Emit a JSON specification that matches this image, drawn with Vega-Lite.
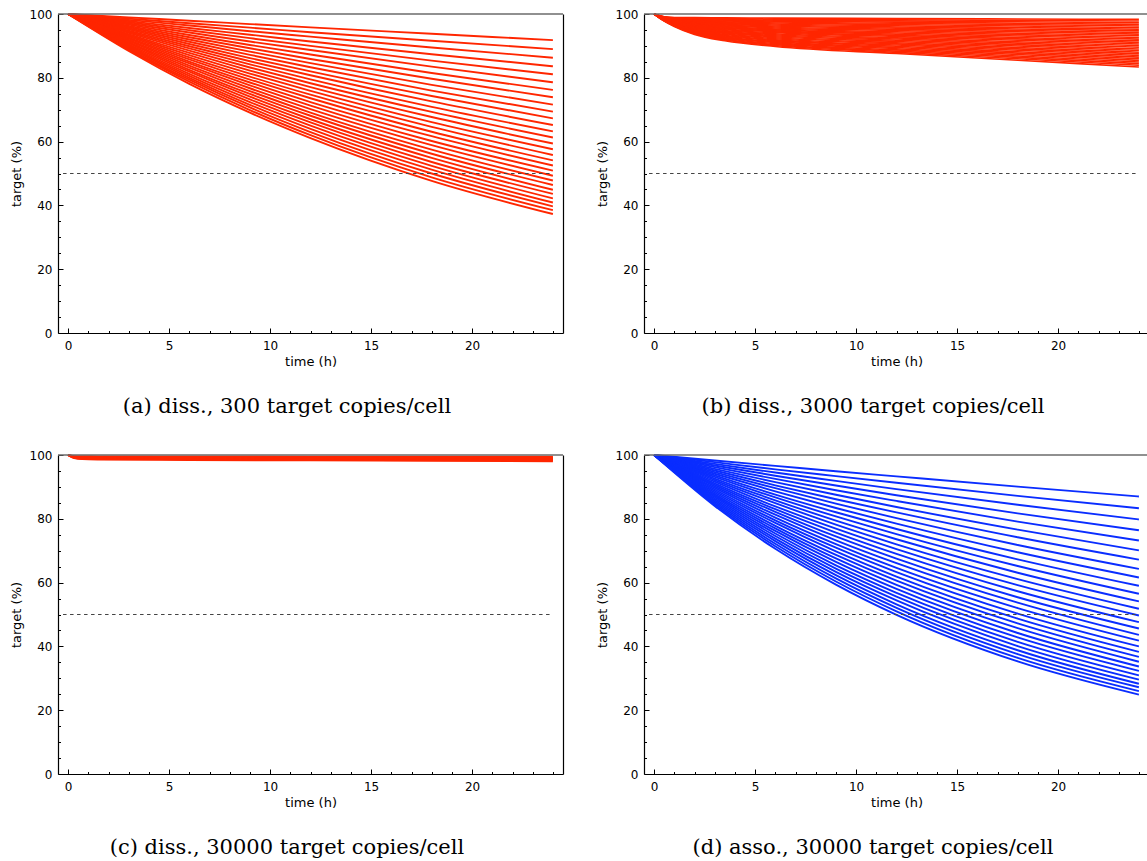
{
  "$schema": "https://vega.github.io/schema/vega-lite/v6.json",
  "background": "white",
  "padding": {"left": 10, "top": 8, "right": 0, "bottom": 0},
  "config": {
    "view": {"stroke": null},
    "font": "DejaVu Sans",
    "axis": {
      "domainColor": "black",
      "domainWidth": 1.2,
      "tickColor": "black",
      "tickWidth": 1,
      "labelColor": "black",
      "labelFont": "DejaVu Sans",
      "labelFontSize": 12,
      "titleFont": "DejaVu Sans",
      "titleFontSize": 13,
      "titleFontWeight": "normal",
      "titleColor": "black",
      "grid": false,
      "labelFlush": false,
      "labelOverlap": false
    },
    "title": {"font": "DejaVu Serif", "fontSize": 21, "fontWeight": "normal", "color": "black"}
  },
  "datasets": {
    "a": [
      {"s":0,"t":0,"v":100},{"s":0,"t":3,"v":98.94},{"s":0,"t":6,"v":97.9},{"s":0,"t":9,"v":96.84},{"s":0,"t":12,"v":95.8},{"s":0,"t":18,"v":93.8},{"s":0,"t":24,"v":91.8},
      {"s":1,"t":0,"v":100},{"s":1,"t":3,"v":98.55},{"s":1,"t":6,"v":97.1},{"s":1,"t":9,"v":95.72},{"s":1,"t":12,"v":94.3},{"s":1,"t":18,"v":91.6},{"s":1,"t":24,"v":89.0},
      {"s":2,"t":0,"v":100},{"s":2,"t":3,"v":98.17},{"s":2,"t":6,"v":96.4},{"s":2,"t":9,"v":94.61},{"s":2,"t":12,"v":92.9},{"s":2,"t":18,"v":89.5},{"s":2,"t":24,"v":86.3},
      {"s":3,"t":0,"v":100},{"s":3,"t":3,"v":97.79},{"s":3,"t":6,"v":95.6},{"s":3,"t":9,"v":93.51},{"s":3,"t":12,"v":91.4},{"s":3,"t":18,"v":87.4},{"s":3,"t":24,"v":83.6},
      {"s":4,"t":0,"v":100},{"s":4,"t":3,"v":97.41},{"s":4,"t":6,"v":94.9},{"s":4,"t":9,"v":92.43},{"s":4,"t":12,"v":90.0},{"s":4,"t":18,"v":85.4},{"s":4,"t":24,"v":81.1},
      {"s":5,"t":0,"v":100},{"s":5,"t":3,"v":97.03},{"s":5,"t":6,"v":94.2},{"s":5,"t":9,"v":91.36},{"s":5,"t":12,"v":88.7},{"s":5,"t":18,"v":83.5},{"s":5,"t":24,"v":78.6},
      {"s":6,"t":0,"v":100},{"s":6,"t":3,"v":96.66},{"s":6,"t":6,"v":93.4},{"s":6,"t":9,"v":90.30},{"s":6,"t":12,"v":87.3},{"s":6,"t":18,"v":81.5},{"s":6,"t":24,"v":76.2},
      {"s":7,"t":0,"v":100},{"s":7,"t":3,"v":96.28},{"s":7,"t":6,"v":92.7},{"s":7,"t":9,"v":89.26},{"s":7,"t":12,"v":85.9},{"s":7,"t":18,"v":79.7},{"s":7,"t":24,"v":73.9},
      {"s":8,"t":0,"v":100},{"s":8,"t":3,"v":95.91},{"s":8,"t":6,"v":92.0},{"s":8,"t":9,"v":88.22},{"s":8,"t":12,"v":84.6},{"s":8,"t":18,"v":77.8},{"s":8,"t":24,"v":71.6},
      {"s":9,"t":0,"v":100},{"s":9,"t":3,"v":95.54},{"s":9,"t":6,"v":91.3},{"s":9,"t":9,"v":87.20},{"s":9,"t":12,"v":83.3},{"s":9,"t":18,"v":76.0},{"s":9,"t":24,"v":69.4},
      {"s":10,"t":0,"v":100},{"s":10,"t":3,"v":95.17},{"s":10,"t":6,"v":90.6},{"s":10,"t":9,"v":86.19},{"s":10,"t":12,"v":82.0},{"s":10,"t":18,"v":74.3},{"s":10,"t":24,"v":67.3},
      {"s":11,"t":0,"v":100},{"s":11,"t":3,"v":94.80},{"s":11,"t":6,"v":89.9},{"s":11,"t":9,"v":85.19},{"s":11,"t":12,"v":80.8},{"s":11,"t":18,"v":72.6},{"s":11,"t":24,"v":65.2},
      {"s":12,"t":0,"v":100},{"s":12,"t":3,"v":94.43},{"s":12,"t":6,"v":89.2},{"s":12,"t":9,"v":84.21},{"s":12,"t":12,"v":79.5},{"s":12,"t":18,"v":70.9},{"s":12,"t":24,"v":63.2},
      {"s":13,"t":0,"v":100},{"s":13,"t":3,"v":94.07},{"s":13,"t":6,"v":88.5},{"s":13,"t":9,"v":83.23},{"s":13,"t":12,"v":78.3},{"s":13,"t":18,"v":69.3},{"s":13,"t":24,"v":61.3},
      {"s":14,"t":0,"v":100},{"s":14,"t":3,"v":93.70},{"s":14,"t":6,"v":87.8},{"s":14,"t":9,"v":82.27},{"s":14,"t":12,"v":77.1},{"s":14,"t":18,"v":67.7},{"s":14,"t":24,"v":59.4},
      {"s":15,"t":0,"v":100},{"s":15,"t":3,"v":93.34},{"s":15,"t":6,"v":87.1},{"s":15,"t":9,"v":81.32},{"s":15,"t":12,"v":75.9},{"s":15,"t":18,"v":66.1},{"s":15,"t":24,"v":57.6},
      {"s":16,"t":0,"v":100},{"s":16,"t":3,"v":92.98},{"s":16,"t":6,"v":86.4},{"s":16,"t":9,"v":80.37},{"s":16,"t":12,"v":74.7},{"s":16,"t":18,"v":64.6},{"s":16,"t":24,"v":55.8},
      {"s":17,"t":0,"v":100},{"s":17,"t":3,"v":92.62},{"s":17,"t":6,"v":85.8},{"s":17,"t":9,"v":79.45},{"s":17,"t":12,"v":73.6},{"s":17,"t":18,"v":63.1},{"s":17,"t":24,"v":54.1},
      {"s":18,"t":0,"v":100},{"s":18,"t":3,"v":92.26},{"s":18,"t":6,"v":85.1},{"s":18,"t":9,"v":78.53},{"s":18,"t":12,"v":72.4},{"s":18,"t":18,"v":61.7},{"s":18,"t":24,"v":52.5},
      {"s":19,"t":0,"v":100},{"s":19,"t":3,"v":91.90},{"s":19,"t":6,"v":84.5},{"s":19,"t":9,"v":77.62},{"s":19,"t":12,"v":71.3},{"s":19,"t":18,"v":60.2},{"s":19,"t":24,"v":50.9},
      {"s":20,"t":0,"v":100},{"s":20,"t":3,"v":91.54},{"s":20,"t":6,"v":83.8},{"s":20,"t":9,"v":76.72},{"s":20,"t":12,"v":70.2},{"s":20,"t":18,"v":58.9},{"s":20,"t":24,"v":49.3},
      {"s":21,"t":0,"v":100},{"s":21,"t":3,"v":91.19},{"s":21,"t":6,"v":83.2},{"s":21,"t":9,"v":75.83},{"s":21,"t":12,"v":69.1},{"s":21,"t":18,"v":57.5},{"s":21,"t":24,"v":47.8},
      {"s":22,"t":0,"v":100},{"s":22,"t":3,"v":90.84},{"s":22,"t":6,"v":82.5},{"s":22,"t":9,"v":74.95},{"s":22,"t":12,"v":68.1},{"s":22,"t":18,"v":56.2},{"s":22,"t":24,"v":46.4},
      {"s":23,"t":0,"v":100},{"s":23,"t":3,"v":90.48},{"s":23,"t":6,"v":81.9},{"s":23,"t":9,"v":74.08},{"s":23,"t":12,"v":67.0},{"s":23,"t":18,"v":54.9},{"s":23,"t":24,"v":44.9},
      {"s":24,"t":0,"v":100},{"s":24,"t":3,"v":90.13},{"s":24,"t":6,"v":81.2},{"s":24,"t":9,"v":73.23},{"s":24,"t":12,"v":66.0},{"s":24,"t":18,"v":53.6},{"s":24,"t":24,"v":43.6},
      {"s":25,"t":0,"v":100},{"s":25,"t":3,"v":89.78},{"s":25,"t":6,"v":80.6},{"s":25,"t":9,"v":72.38},{"s":25,"t":12,"v":65.0},{"s":25,"t":18,"v":52.4},{"s":25,"t":24,"v":42.2},
      {"s":26,"t":0,"v":100},{"s":26,"t":3,"v":89.44},{"s":26,"t":6,"v":80.0},{"s":26,"t":9,"v":71.54},{"s":26,"t":12,"v":64.0},{"s":26,"t":18,"v":51.2},{"s":26,"t":24,"v":40.9},
      {"s":27,"t":0,"v":100},{"s":27,"t":3,"v":89.09},{"s":27,"t":6,"v":79.4},{"s":27,"t":9,"v":70.71},{"s":27,"t":12,"v":63.0},{"s":27,"t":18,"v":50.0},{"s":27,"t":24,"v":39.7},
      {"s":28,"t":0,"v":100},{"s":28,"t":3,"v":88.74},{"s":28,"t":6,"v":78.8},{"s":28,"t":9,"v":69.89},{"s":28,"t":12,"v":62.0},{"s":28,"t":18,"v":48.8},{"s":28,"t":24,"v":38.5},
      {"s":29,"t":0,"v":100},{"s":29,"t":3,"v":88.40},{"s":29,"t":6,"v":78.1},{"s":29,"t":9,"v":69.08},{"s":29,"t":12,"v":61.1},{"s":29,"t":18,"v":47.7},{"s":29,"t":24,"v":37.3}
    ],
    "b": [
      {"s":0,"t":0,"v":100},{"s":0,"t":0.5,"v":99.15},{"s":0,"t":1,"v":98.9},{"s":0,"t":2,"v":98.85},{"s":0,"t":3.5,"v":98.8},{"s":0,"t":6,"v":98.7},{"s":0,"t":12,"v":98.6},{"s":0,"t":18,"v":98.45},{"s":0,"t":24,"v":98.3},
      {"s":1,"t":0,"v":100},{"s":1,"t":0.5,"v":99.10},{"s":1,"t":1,"v":98.80},{"s":1,"t":2,"v":98.67},{"s":1,"t":3.5,"v":98.55},{"s":1,"t":6,"v":98.39},{"s":1,"t":12,"v":98.22},{"s":1,"t":18,"v":98.00},{"s":1,"t":24,"v":97.79},
      {"s":2,"t":0,"v":100},{"s":2,"t":0.5,"v":99.06},{"s":2,"t":1,"v":98.71},{"s":2,"t":2,"v":98.49},{"s":2,"t":3.5,"v":98.30},{"s":2,"t":6,"v":98.09},{"s":2,"t":12,"v":97.84},{"s":2,"t":18,"v":97.56},{"s":2,"t":24,"v":97.27},
      {"s":3,"t":0,"v":100},{"s":3,"t":0.5,"v":99.01},{"s":3,"t":1,"v":98.61},{"s":3,"t":2,"v":98.31},{"s":3,"t":3.5,"v":98.06},{"s":3,"t":6,"v":97.78},{"s":3,"t":12,"v":97.46},{"s":3,"t":18,"v":97.11},{"s":3,"t":24,"v":96.76},
      {"s":4,"t":0,"v":100},{"s":4,"t":0.5,"v":98.96},{"s":4,"t":1,"v":98.51},{"s":4,"t":2,"v":98.13},{"s":4,"t":3.5,"v":97.81},{"s":4,"t":6,"v":97.47},{"s":4,"t":12,"v":97.08},{"s":4,"t":18,"v":96.66},{"s":4,"t":24,"v":96.24},
      {"s":5,"t":0,"v":100},{"s":5,"t":0.5,"v":98.92},{"s":5,"t":1,"v":98.42},{"s":5,"t":2,"v":97.94},{"s":5,"t":3.5,"v":97.56},{"s":5,"t":6,"v":97.17},{"s":5,"t":12,"v":96.70},{"s":5,"t":18,"v":96.22},{"s":5,"t":24,"v":95.73},
      {"s":6,"t":0,"v":100},{"s":6,"t":0.5,"v":98.87},{"s":6,"t":1,"v":98.32},{"s":6,"t":2,"v":97.76},{"s":6,"t":3.5,"v":97.31},{"s":6,"t":6,"v":96.86},{"s":6,"t":12,"v":96.32},{"s":6,"t":18,"v":95.77},{"s":6,"t":24,"v":95.22},
      {"s":7,"t":0,"v":100},{"s":7,"t":0.5,"v":98.82},{"s":7,"t":1,"v":98.22},{"s":7,"t":2,"v":97.58},{"s":7,"t":3.5,"v":97.06},{"s":7,"t":6,"v":96.55},{"s":7,"t":12,"v":95.94},{"s":7,"t":18,"v":95.32},{"s":7,"t":24,"v":94.70},
      {"s":8,"t":0,"v":100},{"s":8,"t":0.5,"v":98.78},{"s":8,"t":1,"v":98.13},{"s":8,"t":2,"v":97.40},{"s":8,"t":3.5,"v":96.81},{"s":8,"t":6,"v":96.24},{"s":8,"t":12,"v":95.57},{"s":8,"t":18,"v":94.88},{"s":8,"t":24,"v":94.19},
      {"s":9,"t":0,"v":100},{"s":9,"t":0.5,"v":98.73},{"s":9,"t":1,"v":98.03},{"s":9,"t":2,"v":97.22},{"s":9,"t":3.5,"v":96.57},{"s":9,"t":6,"v":95.94},{"s":9,"t":12,"v":95.19},{"s":9,"t":18,"v":94.43},{"s":9,"t":24,"v":93.68},
      {"s":10,"t":0,"v":100},{"s":10,"t":0.5,"v":98.68},{"s":10,"t":1,"v":97.93},{"s":10,"t":2,"v":97.04},{"s":10,"t":3.5,"v":96.32},{"s":10,"t":6,"v":95.63},{"s":10,"t":12,"v":94.81},{"s":10,"t":18,"v":93.98},{"s":10,"t":24,"v":93.16},
      {"s":11,"t":0,"v":100},{"s":11,"t":0.5,"v":98.64},{"s":11,"t":1,"v":97.84},{"s":11,"t":2,"v":96.86},{"s":11,"t":3.5,"v":96.07},{"s":11,"t":6,"v":95.32},{"s":11,"t":12,"v":94.43},{"s":11,"t":18,"v":93.54},{"s":11,"t":24,"v":92.65},
      {"s":12,"t":0,"v":100},{"s":12,"t":0.5,"v":98.59},{"s":12,"t":1,"v":97.74},{"s":12,"t":2,"v":96.68},{"s":12,"t":3.5,"v":95.82},{"s":12,"t":6,"v":95.02},{"s":12,"t":12,"v":94.05},{"s":12,"t":18,"v":93.09},{"s":12,"t":24,"v":92.13},
      {"s":13,"t":0,"v":100},{"s":13,"t":0.5,"v":98.54},{"s":13,"t":1,"v":97.64},{"s":13,"t":2,"v":96.50},{"s":13,"t":3.5,"v":95.57},{"s":13,"t":6,"v":94.71},{"s":13,"t":12,"v":93.67},{"s":13,"t":18,"v":92.64},{"s":13,"t":24,"v":91.62},
      {"s":14,"t":0,"v":100},{"s":14,"t":0.5,"v":98.50},{"s":14,"t":1,"v":97.55},{"s":14,"t":2,"v":96.32},{"s":14,"t":3.5,"v":95.32},{"s":14,"t":6,"v":94.40},{"s":14,"t":12,"v":93.29},{"s":14,"t":18,"v":92.20},{"s":14,"t":24,"v":91.11},
      {"s":15,"t":0,"v":100},{"s":15,"t":0.5,"v":98.45},{"s":15,"t":1,"v":97.45},{"s":15,"t":2,"v":96.13},{"s":15,"t":3.5,"v":95.08},{"s":15,"t":6,"v":94.10},{"s":15,"t":12,"v":92.91},{"s":15,"t":18,"v":91.75},{"s":15,"t":24,"v":90.59},
      {"s":16,"t":0,"v":100},{"s":16,"t":0.5,"v":98.41},{"s":16,"t":1,"v":97.36},{"s":16,"t":2,"v":95.95},{"s":16,"t":3.5,"v":94.83},{"s":16,"t":6,"v":93.79},{"s":16,"t":12,"v":92.53},{"s":16,"t":18,"v":91.30},{"s":16,"t":24,"v":90.08},
      {"s":17,"t":0,"v":100},{"s":17,"t":0.5,"v":98.36},{"s":17,"t":1,"v":97.26},{"s":17,"t":2,"v":95.77},{"s":17,"t":3.5,"v":94.58},{"s":17,"t":6,"v":93.48},{"s":17,"t":12,"v":92.15},{"s":17,"t":18,"v":90.86},{"s":17,"t":24,"v":89.57},
      {"s":18,"t":0,"v":100},{"s":18,"t":0.5,"v":98.31},{"s":18,"t":1,"v":97.16},{"s":18,"t":2,"v":95.59},{"s":18,"t":3.5,"v":94.33},{"s":18,"t":6,"v":93.18},{"s":18,"t":12,"v":91.77},{"s":18,"t":18,"v":90.41},{"s":18,"t":24,"v":89.05},
      {"s":19,"t":0,"v":100},{"s":19,"t":0.5,"v":98.27},{"s":19,"t":1,"v":97.07},{"s":19,"t":2,"v":95.41},{"s":19,"t":3.5,"v":94.08},{"s":19,"t":6,"v":92.87},{"s":19,"t":12,"v":91.39},{"s":19,"t":18,"v":89.96},{"s":19,"t":24,"v":88.54},
      {"s":20,"t":0,"v":100},{"s":20,"t":0.5,"v":98.22},{"s":20,"t":1,"v":96.97},{"s":20,"t":2,"v":95.23},{"s":20,"t":3.5,"v":93.83},{"s":20,"t":6,"v":92.56},{"s":20,"t":12,"v":91.01},{"s":20,"t":18,"v":89.52},{"s":20,"t":24,"v":88.02},
      {"s":21,"t":0,"v":100},{"s":21,"t":0.5,"v":98.17},{"s":21,"t":1,"v":96.87},{"s":21,"t":2,"v":95.05},{"s":21,"t":3.5,"v":93.59},{"s":21,"t":6,"v":92.26},{"s":21,"t":12,"v":90.63},{"s":21,"t":18,"v":89.07},{"s":21,"t":24,"v":87.51},
      {"s":22,"t":0,"v":100},{"s":22,"t":0.5,"v":98.13},{"s":22,"t":1,"v":96.78},{"s":22,"t":2,"v":94.87},{"s":22,"t":3.5,"v":93.34},{"s":22,"t":6,"v":91.95},{"s":22,"t":12,"v":90.26},{"s":22,"t":18,"v":88.63},{"s":22,"t":24,"v":87.00},
      {"s":23,"t":0,"v":100},{"s":23,"t":0.5,"v":98.08},{"s":23,"t":1,"v":96.68},{"s":23,"t":2,"v":94.69},{"s":23,"t":3.5,"v":93.09},{"s":23,"t":6,"v":91.64},{"s":23,"t":12,"v":89.88},{"s":23,"t":18,"v":88.18},{"s":23,"t":24,"v":86.48},
      {"s":24,"t":0,"v":100},{"s":24,"t":0.5,"v":98.03},{"s":24,"t":1,"v":96.58},{"s":24,"t":2,"v":94.50},{"s":24,"t":3.5,"v":92.84},{"s":24,"t":6,"v":91.33},{"s":24,"t":12,"v":89.50},{"s":24,"t":18,"v":87.73},{"s":24,"t":24,"v":85.97},
      {"s":25,"t":0,"v":100},{"s":25,"t":0.5,"v":97.99},{"s":25,"t":1,"v":96.49},{"s":25,"t":2,"v":94.32},{"s":25,"t":3.5,"v":92.59},{"s":25,"t":6,"v":91.03},{"s":25,"t":12,"v":89.12},{"s":25,"t":18,"v":87.29},{"s":25,"t":24,"v":85.46},
      {"s":26,"t":0,"v":100},{"s":26,"t":0.5,"v":97.94},{"s":26,"t":1,"v":96.39},{"s":26,"t":2,"v":94.14},{"s":26,"t":3.5,"v":92.34},{"s":26,"t":6,"v":90.72},{"s":26,"t":12,"v":88.74},{"s":26,"t":18,"v":86.84},{"s":26,"t":24,"v":84.94},
      {"s":27,"t":0,"v":100},{"s":27,"t":0.5,"v":97.89},{"s":27,"t":1,"v":96.29},{"s":27,"t":2,"v":93.96},{"s":27,"t":3.5,"v":92.10},{"s":27,"t":6,"v":90.41},{"s":27,"t":12,"v":88.36},{"s":27,"t":18,"v":86.39},{"s":27,"t":24,"v":84.43},
      {"s":28,"t":0,"v":100},{"s":28,"t":0.5,"v":97.85},{"s":28,"t":1,"v":96.20},{"s":28,"t":2,"v":93.78},{"s":28,"t":3.5,"v":91.85},{"s":28,"t":6,"v":90.11},{"s":28,"t":12,"v":87.98},{"s":28,"t":18,"v":85.95},{"s":28,"t":24,"v":83.91},
      {"s":29,"t":0,"v":100},{"s":29,"t":0.5,"v":97.80},{"s":29,"t":1,"v":96.10},{"s":29,"t":2,"v":93.60},{"s":29,"t":3.5,"v":91.60},{"s":29,"t":6,"v":89.80},{"s":29,"t":12,"v":87.60},{"s":29,"t":18,"v":85.50},{"s":29,"t":24,"v":83.40}
    ],
    "c": [
      {"s":0,"t":0,"v":100},{"s":0,"t":0.3,"v":99.65},{"s":0,"t":0.7,"v":99.6},{"s":0,"t":1.5,"v":99.58},{"s":0,"t":6,"v":99.55},{"s":0,"t":12,"v":99.5},{"s":0,"t":24,"v":99.45},
      {"s":1,"t":0,"v":100},{"s":1,"t":0.3,"v":99.56},{"s":1,"t":0.7,"v":99.47},{"s":1,"t":1.5,"v":99.44},{"s":1,"t":6,"v":99.39},{"s":1,"t":12,"v":99.33},{"s":1,"t":24,"v":99.25},
      {"s":2,"t":0,"v":100},{"s":2,"t":0.3,"v":99.46},{"s":2,"t":0.7,"v":99.34},{"s":2,"t":1.5,"v":99.30},{"s":2,"t":6,"v":99.24},{"s":2,"t":12,"v":99.16},{"s":2,"t":24,"v":99.05},
      {"s":3,"t":0,"v":100},{"s":3,"t":0.3,"v":99.37},{"s":3,"t":0.7,"v":99.21},{"s":3,"t":1.5,"v":99.16},{"s":3,"t":6,"v":99.08},{"s":3,"t":12,"v":98.99},{"s":3,"t":24,"v":98.85},
      {"s":4,"t":0,"v":100},{"s":4,"t":0.3,"v":99.28},{"s":4,"t":0.7,"v":99.09},{"s":4,"t":1.5,"v":99.02},{"s":4,"t":6,"v":98.92},{"s":4,"t":12,"v":98.81},{"s":4,"t":24,"v":98.65},
      {"s":5,"t":0,"v":100},{"s":5,"t":0.3,"v":99.19},{"s":5,"t":0.7,"v":98.96},{"s":5,"t":1.5,"v":98.88},{"s":5,"t":6,"v":98.76},{"s":5,"t":12,"v":98.64},{"s":5,"t":24,"v":98.45},
      {"s":6,"t":0,"v":100},{"s":6,"t":0.3,"v":99.09},{"s":6,"t":0.7,"v":98.83},{"s":6,"t":1.5,"v":98.74},{"s":6,"t":6,"v":98.61},{"s":6,"t":12,"v":98.47},{"s":6,"t":24,"v":98.25},
      {"s":7,"t":0,"v":100},{"s":7,"t":0.3,"v":99.0},{"s":7,"t":0.7,"v":98.7},{"s":7,"t":1.5,"v":98.6},{"s":7,"t":6,"v":98.45},{"s":7,"t":12,"v":98.3},{"s":7,"t":24,"v":98.05}
    ],
    "d": [
      {"s":0,"t":0,"v":100},{"s":0,"t":3,"v":98.27},{"s":0,"t":6,"v":96.6},{"s":0,"t":9,"v":94.91},{"s":0,"t":12,"v":93.3},{"s":0,"t":18,"v":90.1},{"s":0,"t":24,"v":87.0},
      {"s":1,"t":0,"v":100},{"s":1,"t":3,"v":97.75},{"s":1,"t":6,"v":95.5},{"s":1,"t":9,"v":93.39},{"s":1,"t":12,"v":91.3},{"s":1,"t":18,"v":87.2},{"s":1,"t":24,"v":83.3},
      {"s":2,"t":0,"v":100},{"s":2,"t":3,"v":97.22},{"s":2,"t":6,"v":94.5},{"s":2,"t":9,"v":91.89},{"s":2,"t":12,"v":89.3},{"s":2,"t":18,"v":84.4},{"s":2,"t":24,"v":79.8},
      {"s":3,"t":0,"v":100},{"s":3,"t":3,"v":96.70},{"s":3,"t":6,"v":93.5},{"s":3,"t":9,"v":90.42},{"s":3,"t":12,"v":87.4},{"s":3,"t":18,"v":81.7},{"s":3,"t":24,"v":76.4},
      {"s":4,"t":0,"v":100},{"s":4,"t":3,"v":96.18},{"s":4,"t":6,"v":92.5},{"s":4,"t":9,"v":88.96},{"s":4,"t":12,"v":85.6},{"s":4,"t":18,"v":79.1},{"s":4,"t":24,"v":73.2},
      {"s":5,"t":0,"v":100},{"s":5,"t":3,"v":95.66},{"s":5,"t":6,"v":91.5},{"s":5,"t":9,"v":87.54},{"s":5,"t":12,"v":83.7},{"s":5,"t":18,"v":76.6},{"s":5,"t":24,"v":70.1},
      {"s":6,"t":0,"v":100},{"s":6,"t":3,"v":95.15},{"s":6,"t":6,"v":90.5},{"s":6,"t":9,"v":86.13},{"s":6,"t":12,"v":82.0},{"s":6,"t":18,"v":74.2},{"s":6,"t":24,"v":67.2},
      {"s":7,"t":0,"v":100},{"s":7,"t":3,"v":94.63},{"s":7,"t":6,"v":89.6},{"s":7,"t":9,"v":84.75},{"s":7,"t":12,"v":80.2},{"s":7,"t":18,"v":71.8},{"s":7,"t":24,"v":64.3},
      {"s":8,"t":0,"v":100},{"s":8,"t":3,"v":94.13},{"s":8,"t":6,"v":88.6},{"s":8,"t":9,"v":83.39},{"s":8,"t":12,"v":78.5},{"s":8,"t":18,"v":69.5},{"s":8,"t":24,"v":61.6},
      {"s":9,"t":0,"v":100},{"s":9,"t":3,"v":93.62},{"s":9,"t":6,"v":87.6},{"s":9,"t":9,"v":82.05},{"s":9,"t":12,"v":76.8},{"s":9,"t":18,"v":67.3},{"s":9,"t":24,"v":59.0},
      {"s":10,"t":0,"v":100},{"s":10,"t":3,"v":93.12},{"s":10,"t":6,"v":86.7},{"s":10,"t":9,"v":80.74},{"s":10,"t":12,"v":75.2},{"s":10,"t":18,"v":65.2},{"s":10,"t":24,"v":56.5},
      {"s":11,"t":0,"v":100},{"s":11,"t":3,"v":92.62},{"s":11,"t":6,"v":85.8},{"s":11,"t":9,"v":79.44},{"s":11,"t":12,"v":73.6},{"s":11,"t":18,"v":63.1},{"s":11,"t":24,"v":54.1},
      {"s":12,"t":0,"v":100},{"s":12,"t":3,"v":92.12},{"s":12,"t":6,"v":84.9},{"s":12,"t":9,"v":78.17},{"s":12,"t":12,"v":72.0},{"s":12,"t":18,"v":61.1},{"s":12,"t":24,"v":51.8},
      {"s":13,"t":0,"v":100},{"s":13,"t":3,"v":91.62},{"s":13,"t":6,"v":83.9},{"s":13,"t":9,"v":76.91},{"s":13,"t":12,"v":70.5},{"s":13,"t":18,"v":59.2},{"s":13,"t":24,"v":49.7},
      {"s":14,"t":0,"v":100},{"s":14,"t":3,"v":91.13},{"s":14,"t":6,"v":83.0},{"s":14,"t":9,"v":75.68},{"s":14,"t":12,"v":69.0},{"s":14,"t":18,"v":57.3},{"s":14,"t":24,"v":47.6},
      {"s":15,"t":0,"v":100},{"s":15,"t":3,"v":90.64},{"s":15,"t":6,"v":82.2},{"s":15,"t":9,"v":74.46},{"s":15,"t":12,"v":67.5},{"s":15,"t":18,"v":55.4},{"s":15,"t":24,"v":45.6},
      {"s":16,"t":0,"v":100},{"s":16,"t":3,"v":90.15},{"s":16,"t":6,"v":81.3},{"s":16,"t":9,"v":73.27},{"s":16,"t":12,"v":66.1},{"s":16,"t":18,"v":53.7},{"s":16,"t":24,"v":43.6},
      {"s":17,"t":0,"v":100},{"s":17,"t":3,"v":89.67},{"s":17,"t":6,"v":80.4},{"s":17,"t":9,"v":72.09},{"s":17,"t":12,"v":64.6},{"s":17,"t":18,"v":52.0},{"s":17,"t":24,"v":41.8},
      {"s":18,"t":0,"v":100},{"s":18,"t":3,"v":89.19},{"s":18,"t":6,"v":79.5},{"s":18,"t":9,"v":70.94},{"s":18,"t":12,"v":63.3},{"s":18,"t":18,"v":50.3},{"s":18,"t":24,"v":40.0},
      {"s":19,"t":0,"v":100},{"s":19,"t":3,"v":88.71},{"s":19,"t":6,"v":78.7},{"s":19,"t":9,"v":69.80},{"s":19,"t":12,"v":61.9},{"s":19,"t":18,"v":48.7},{"s":19,"t":24,"v":38.3},
      {"s":20,"t":0,"v":100},{"s":20,"t":3,"v":88.23},{"s":20,"t":6,"v":77.8},{"s":20,"t":9,"v":68.68},{"s":20,"t":12,"v":60.6},{"s":20,"t":18,"v":47.2},{"s":20,"t":24,"v":36.7},
      {"s":21,"t":0,"v":100},{"s":21,"t":3,"v":87.75},{"s":21,"t":6,"v":77.0},{"s":21,"t":9,"v":67.58},{"s":21,"t":12,"v":59.3},{"s":21,"t":18,"v":45.7},{"s":21,"t":24,"v":35.2},
      {"s":22,"t":0,"v":100},{"s":22,"t":3,"v":87.28},{"s":22,"t":6,"v":76.2},{"s":22,"t":9,"v":66.49},{"s":22,"t":12,"v":58.0},{"s":22,"t":18,"v":44.2},{"s":22,"t":24,"v":33.7},
      {"s":23,"t":0,"v":100},{"s":23,"t":3,"v":86.81},{"s":23,"t":6,"v":75.4},{"s":23,"t":9,"v":65.42},{"s":23,"t":12,"v":56.8},{"s":23,"t":18,"v":42.8},{"s":23,"t":24,"v":32.3},
      {"s":24,"t":0,"v":100},{"s":24,"t":3,"v":86.35},{"s":24,"t":6,"v":74.6},{"s":24,"t":9,"v":64.37},{"s":24,"t":12,"v":55.6},{"s":24,"t":18,"v":41.4},{"s":24,"t":24,"v":30.9},
      {"s":25,"t":0,"v":100},{"s":25,"t":3,"v":85.88},{"s":25,"t":6,"v":73.8},{"s":25,"t":9,"v":63.34},{"s":25,"t":12,"v":54.4},{"s":25,"t":18,"v":40.1},{"s":25,"t":24,"v":29.6},
      {"s":26,"t":0,"v":100},{"s":26,"t":3,"v":85.42},{"s":26,"t":6,"v":73.0},{"s":26,"t":9,"v":62.33},{"s":26,"t":12,"v":53.2},{"s":26,"t":18,"v":38.8},{"s":26,"t":24,"v":28.3},
      {"s":27,"t":0,"v":100},{"s":27,"t":3,"v":84.96},{"s":27,"t":6,"v":72.2},{"s":27,"t":9,"v":61.33},{"s":27,"t":12,"v":52.1},{"s":27,"t":18,"v":37.6},{"s":27,"t":24,"v":27.2},
      {"s":28,"t":0,"v":100},{"s":28,"t":3,"v":84.50},{"s":28,"t":6,"v":71.4},{"s":28,"t":9,"v":60.35},{"s":28,"t":12,"v":51.0},{"s":28,"t":18,"v":36.4},{"s":28,"t":24,"v":26.0},
      {"s":29,"t":0,"v":100},{"s":29,"t":3,"v":84.05},{"s":29,"t":6,"v":70.6},{"s":29,"t":9,"v":59.37},{"s":29,"t":12,"v":49.9},{"s":29,"t":18,"v":35.3},{"s":29,"t":24,"v":24.9}
    ],
    "guides": [
      {"kind":"half","x":-0.25,"x2":24,"y":50}
    ]
  },
  "columns": 2,
  "bounds": "flush",
  "spacing": {"row": 122, "column": 81},
  "concat": [
    {
      "width": 505, "height": 319,
      "title": {"text": "(a) diss., 300 target copies/cell", "orient": "bottom", "frame": "bounds", "offset": 28},
      "resolve": {"axis": {"x": "independent", "y": "independent"}},
      "layer": [
        {
          "data": {"name": "a"},
          "mark": {"type": "line", "color": "#ff2600", "strokeWidth": 1.9, "interpolate": "monotone"},
          "encoding": {
            "x": {"field": "t", "type": "quantitative", "scale": {"domain": [-0.5, 24.5], "nice": false, "zero": false},
              "axis": {"orient": "bottom", "title": "time (h)", "values": [0, 5, 10, 15, 20], "tickSize": -5, "labelPadding": 12, "titlePadding": 4}},
            "y": {"field": "v", "type": "quantitative", "scale": {"domain": [0, 100], "nice": false},
              "axis": {"orient": "left", "title": "target (%)", "values": [0, 20, 40, 60, 80, 100], "tickSize": -5, "labelPadding": 11, "titlePadding": 6}},
            "detail": {"field": "s"}
          }
        },
        {
          "data": {"name": "guides"},
          "mark": {"type": "rule", "color": "#444444", "strokeWidth": 1.1, "strokeDash": [3.5, 3.5]},
          "encoding": {
            "x": {"field": "x", "type": "quantitative",
              "axis": {"orient": "bottom", "title": null, "values": [1,2,3,4,6,7,8,9,11,12,13,14,16,17,18,19,21,22,23,24], "labels": false, "domain": false, "tickSize": -2.5}},
            "x2": {"field": "x2"},
            "y": {"field": "y", "type": "quantitative",
              "axis": {"orient": "left", "title": null, "values": [5,10,15,25,30,35,45,50,55,65,70,75,85,90,95], "labels": false, "domain": false, "tickSize": -2.5}}
          }
        },
        {
          "data": {"values": [{"y": 100}]},
          "mark": {"type": "rule", "color": "#6b6b6b", "strokeWidth": 1.6},
          "encoding": {"y": {"field": "y", "type": "quantitative", "axis": {"orient": "right", "title": null, "labels": false, "ticks": false, "domain": true}}}
        }
      ]
    },
    {
      "width": 505, "height": 319,
      "title": {"text": "(b) diss., 3000 target copies/cell", "orient": "bottom", "frame": "bounds", "offset": 28},
      "resolve": {"axis": {"x": "independent", "y": "independent"}},
      "layer": [
        {
          "data": {"name": "b"},
          "mark": {"type": "line", "color": "#ff2600", "strokeWidth": 1.6, "interpolate": "monotone"},
          "encoding": {
            "x": {"field": "t", "type": "quantitative", "scale": {"domain": [-0.5, 24.5], "nice": false, "zero": false},
              "axis": {"orient": "bottom", "title": "time (h)", "values": [0, 5, 10, 15, 20], "tickSize": -5, "labelPadding": 12, "titlePadding": 4}},
            "y": {"field": "v", "type": "quantitative", "scale": {"domain": [0, 100], "nice": false},
              "axis": {"orient": "left", "title": "target (%)", "values": [0, 20, 40, 60, 80, 100], "tickSize": -5, "labelPadding": 11, "titlePadding": 6}},
            "detail": {"field": "s"}
          }
        },
        {
          "data": {"name": "guides"},
          "mark": {"type": "rule", "color": "#444444", "strokeWidth": 1.1, "strokeDash": [3.5, 3.5]},
          "encoding": {
            "x": {"field": "x", "type": "quantitative",
              "axis": {"orient": "bottom", "title": null, "values": [1,2,3,4,6,7,8,9,11,12,13,14,16,17,18,19,21,22,23,24], "labels": false, "domain": false, "tickSize": -2.5}},
            "x2": {"field": "x2"},
            "y": {"field": "y", "type": "quantitative",
              "axis": {"orient": "left", "title": null, "values": [5,10,15,25,30,35,45,50,55,65,70,75,85,90,95], "labels": false, "domain": false, "tickSize": -2.5}}
          }
        },
        {
          "data": {"values": [{"y": 100}]},
          "mark": {"type": "rule", "color": "#6b6b6b", "strokeWidth": 1.6},
          "encoding": {"y": {"field": "y", "type": "quantitative", "axis": {"orient": "right", "title": null, "labels": false, "ticks": false, "domain": true}}}
        }
      ]
    },
    {
      "width": 505, "height": 319,
      "title": {"text": "(c) diss., 30000 target copies/cell", "orient": "bottom", "frame": "bounds", "offset": 28},
      "resolve": {"axis": {"x": "independent", "y": "independent"}},
      "layer": [
        {
          "data": {"name": "c"},
          "mark": {"type": "line", "color": "#ff2600", "strokeWidth": 1.9, "interpolate": "monotone"},
          "encoding": {
            "x": {"field": "t", "type": "quantitative", "scale": {"domain": [-0.5, 24.5], "nice": false, "zero": false},
              "axis": {"orient": "bottom", "title": "time (h)", "values": [0, 5, 10, 15, 20], "tickSize": -5, "labelPadding": 12, "titlePadding": 4}},
            "y": {"field": "v", "type": "quantitative", "scale": {"domain": [0, 100], "nice": false},
              "axis": {"orient": "left", "title": "target (%)", "values": [0, 20, 40, 60, 80, 100], "tickSize": -5, "labelPadding": 11, "titlePadding": 6}},
            "detail": {"field": "s"}
          }
        },
        {
          "data": {"name": "guides"},
          "mark": {"type": "rule", "color": "#444444", "strokeWidth": 1.1, "strokeDash": [3.5, 3.5]},
          "encoding": {
            "x": {"field": "x", "type": "quantitative",
              "axis": {"orient": "bottom", "title": null, "values": [1,2,3,4,6,7,8,9,11,12,13,14,16,17,18,19,21,22,23,24], "labels": false, "domain": false, "tickSize": -2.5}},
            "x2": {"field": "x2"},
            "y": {"field": "y", "type": "quantitative",
              "axis": {"orient": "left", "title": null, "values": [5,10,15,25,30,35,45,50,55,65,70,75,85,90,95], "labels": false, "domain": false, "tickSize": -2.5}}
          }
        },
        {
          "data": {"values": [{"y": 100}]},
          "mark": {"type": "rule", "color": "#6b6b6b", "strokeWidth": 1.6},
          "encoding": {"y": {"field": "y", "type": "quantitative", "axis": {"orient": "right", "title": null, "labels": false, "ticks": false, "domain": true}}}
        }
      ]
    },
    {
      "width": 505, "height": 319,
      "title": {"text": "(d) asso., 30000 target copies/cell", "orient": "bottom", "frame": "bounds", "offset": 28},
      "resolve": {"axis": {"x": "independent", "y": "independent"}},
      "layer": [
        {
          "data": {"name": "d"},
          "mark": {"type": "line", "color": "#0a2dff", "strokeWidth": 1.9, "interpolate": "monotone"},
          "encoding": {
            "x": {"field": "t", "type": "quantitative", "scale": {"domain": [-0.5, 24.5], "nice": false, "zero": false},
              "axis": {"orient": "bottom", "title": "time (h)", "values": [0, 5, 10, 15, 20], "tickSize": -5, "labelPadding": 12, "titlePadding": 4}},
            "y": {"field": "v", "type": "quantitative", "scale": {"domain": [0, 100], "nice": false},
              "axis": {"orient": "left", "title": "target (%)", "values": [0, 20, 40, 60, 80, 100], "tickSize": -5, "labelPadding": 11, "titlePadding": 6}},
            "detail": {"field": "s"}
          }
        },
        {
          "data": {"name": "guides"},
          "mark": {"type": "rule", "color": "#444444", "strokeWidth": 1.1, "strokeDash": [3.5, 3.5]},
          "encoding": {
            "x": {"field": "x", "type": "quantitative",
              "axis": {"orient": "bottom", "title": null, "values": [1,2,3,4,6,7,8,9,11,12,13,14,16,17,18,19,21,22,23,24], "labels": false, "domain": false, "tickSize": -2.5}},
            "x2": {"field": "x2"},
            "y": {"field": "y", "type": "quantitative",
              "axis": {"orient": "left", "title": null, "values": [5,10,15,25,30,35,45,50,55,65,70,75,85,90,95], "labels": false, "domain": false, "tickSize": -2.5}}
          }
        },
        {
          "data": {"values": [{"y": 100}]},
          "mark": {"type": "rule", "color": "#6b6b6b", "strokeWidth": 1.6},
          "encoding": {"y": {"field": "y", "type": "quantitative", "axis": {"orient": "right", "title": null, "labels": false, "ticks": false, "domain": true}}}
        }
      ]
    }
  ]
}
